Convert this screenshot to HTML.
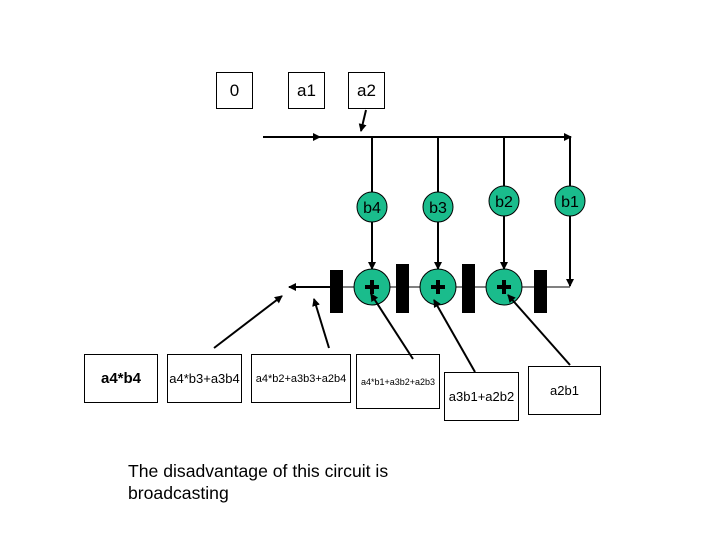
<!DOCTYPE html>
<html><head><style>
body{margin:0;width:720px;height:540px;background:#fff;overflow:hidden;font-family:"Liberation Sans",sans-serif}
.b{position:absolute;border:1px solid #000;background:#fff;display:flex;align-items:center;justify-content:center;color:#000;box-sizing:border-box}
</style></head><body>
<div class="b" style="left:216px;top:72px;width:37px;height:37px;font-size:17px">0</div>
<div class="b" style="left:288px;top:72px;width:37px;height:37px;font-size:17px">a1</div>
<div class="b" style="left:348px;top:72px;width:37px;height:37px;font-size:17px">a2</div>
<div class="b" style="left:84px;top:354px;width:74px;height:49px;font-size:15px;font-weight:bold">a4*b4</div>
<div class="b" style="left:167px;top:354px;width:75px;height:49px;font-size:13px">a4*b3+a3b4</div>
<div class="b" style="left:251px;top:354px;width:100px;height:49px;font-size:11px">a4*b2+a3b3+a2b4</div>
<div class="b" style="left:356px;top:354px;width:84px;height:55px;font-size:9px">a4*b1+a3b2+a2b3</div>
<div class="b" style="left:444px;top:372px;width:75px;height:49px;font-size:13px">a3b1+a2b2</div>
<div class="b" style="left:528px;top:366px;width:73px;height:49px;font-size:13px">a2b1</div>
<svg width="720" height="540" style="position:absolute;left:0;top:0">
<defs><marker id="a" markerWidth="8" markerHeight="8" refX="7" refY="4" orient="auto" markerUnits="userSpaceOnUse"><path d="M0,0 L8,4 L0,8z" fill="#000"/></marker></defs>
<g stroke="#000" stroke-width="2" fill="none">
<line x1="263" y1="137" x2="320" y2="137" marker-end="url(#a)"/>
<line x1="318" y1="137" x2="570" y2="137"/>
<line x1="560" y1="137" x2="571" y2="137" marker-end="url(#a)"/>
<line x1="366" y1="110" x2="361" y2="131" marker-end="url(#a)"/>
<line x1="372" y1="137" x2="372" y2="192"/>
<line x1="438" y1="137" x2="438" y2="192"/>
<line x1="504" y1="137" x2="504" y2="186"/>
<line x1="570" y1="137" x2="570" y2="186"/>
<line x1="372" y1="222" x2="372" y2="269" marker-end="url(#a)"/>
<line x1="438" y1="222" x2="438" y2="269" marker-end="url(#a)"/>
<line x1="504" y1="216" x2="504" y2="269" marker-end="url(#a)"/>
<line x1="570" y1="216" x2="570" y2="286" marker-end="url(#a)"/>
</g>
<line x1="330" y1="287" x2="570" y2="287" stroke="#000" stroke-width="1"/>
<line x1="330" y1="287" x2="289" y2="287" stroke="#000" stroke-width="2" marker-end="url(#a)"/>
<g fill="#000">
<rect x="330" y="270" width="13" height="43"/>
<rect x="396" y="264" width="13" height="49"/>
<rect x="462" y="264" width="13" height="49"/>
<rect x="534" y="270" width="13" height="43"/>
</g>
<g fill="#1abc8c" stroke="#000" stroke-width="1">
<circle cx="372" cy="207" r="15"/><circle cx="438" cy="207" r="15"/>
<circle cx="504" cy="201" r="15"/><circle cx="570" cy="201" r="15"/>
<circle cx="372" cy="287" r="18"/><circle cx="438" cy="287" r="18"/><circle cx="504" cy="287" r="18"/>
</g>
<g font-family="Liberation Sans" font-size="16" text-anchor="middle" fill="#000">
<text x="372" y="213">b4</text><text x="438" y="213">b3</text><text x="504" y="207">b2</text><text x="570" y="207">b1</text>
</g>
<g stroke="#000" stroke-width="4">
<line x1="365" y1="287" x2="379" y2="287"/><line x1="372" y1="280" x2="372" y2="294"/>
<line x1="431" y1="287" x2="445" y2="287"/><line x1="438" y1="280" x2="438" y2="294"/>
<line x1="497" y1="287" x2="511" y2="287"/><line x1="504" y1="280" x2="504" y2="294"/>
</g>
<g stroke="#000" stroke-width="2">
<line x1="214" y1="348" x2="282" y2="296" marker-end="url(#a)"/>
<line x1="329" y1="348" x2="314" y2="299" marker-end="url(#a)"/>
<line x1="413" y1="359" x2="371" y2="294" marker-end="url(#a)"/>
<line x1="475" y1="372" x2="434" y2="300" marker-end="url(#a)"/>
<line x1="570" y1="365" x2="508" y2="295" marker-end="url(#a)"/>
</g>
</svg>
<div style="position:absolute;left:128px;top:460px;font-size:17.6px;line-height:22px;color:#000">The disadvantage of this circuit is<br>broadcasting</div>
</body></html>
